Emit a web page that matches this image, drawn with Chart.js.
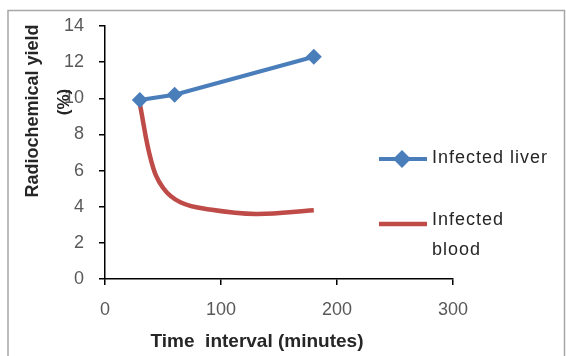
<!DOCTYPE html>
<html>
<head>
<meta charset="utf-8">
<script src="https://cdn.jsdelivr.net/npm/chart.js@4/dist/chart.umd.min.js"></script>
<style>
  html, body { margin: 0; padding: 0; background: #fff; }
  canvas { display: block; }
</style>
</head>
<body>
<canvas id="c" width="566" height="356"></canvas>
<script>
// ---- Data ----
const liverTime  = [30, 60, 180];
const liverYield = [9.9, 10.2, 12.3];

const bloodTime  = [30, 40, 50, 65, 90, 130, 180];
const bloodYield = [9.7, 6.5, 5.05, 4.25, 3.85, 3.6, 3.8];

const seriesNames = ["Infected liver", "Infected blood"];
const xTitle = "Time  interval (minutes)";
const yTitleLines = ["Radiochemical yield", "(%)"];

const liverColor = "#4A7EBB";
const bloodColor = "#BE4B48";
const tickColor = "#595959";

const toPts = (xs, ys) => xs.map((x, i) => ({ x: x, y: ys[i] }));

const decorPlugin = {
  id: "decor",
  beforeDraw(chart) {
    const ctx = chart.ctx;
    ctx.save();
    ctx.fillStyle = "#fff";
    ctx.fillRect(0, 0, chart.width, chart.height);
    ctx.restore();
  },
  afterDraw(chart) {
    const ctx = chart.ctx;
    ctx.save();
    // outer frame
    ctx.strokeStyle = "#a6a6a6";
    ctx.lineWidth = 1.5;
    ctx.beginPath();
    ctx.moveTo(8, 360); ctx.lineTo(8, 10.5); ctx.lineTo(564.5, 10.5); ctx.lineTo(564.5, 360);
    ctx.stroke();

    // x axis title
    ctx.fillStyle = "#262626";
    ctx.font = "bold 19px 'Liberation Sans', Arial, sans-serif";
    ctx.textAlign = "center";
    ctx.textBaseline = "middle";
    ctx.fillText(xTitle, 257, 342, 240);

    // y axis title (rotated)
    ctx.save();
    ctx.translate(33, 111);
    ctx.rotate(-Math.PI / 2);
    ctx.font = "bold 18px 'Liberation Sans', Arial, sans-serif";
    ctx.fillText(yTitleLines[0], 0, 0, 192);
    ctx.restore();
    ctx.save();
    ctx.translate(64, 102);
    ctx.rotate(-Math.PI / 2);
    ctx.font = "bold 17px 'Liberation Sans', Arial, sans-serif";
    ctx.fillText(yTitleLines[1], 0, 0);
    ctx.restore();

    // legend
    ctx.lineCap = "butt";
    ctx.strokeStyle = liverColor;
    ctx.lineWidth = 4;
    ctx.beginPath(); ctx.moveTo(379, 159); ctx.lineTo(427, 159); ctx.stroke();
    ctx.fillStyle = liverColor;
    ctx.beginPath();
    ctx.moveTo(402, 150); ctx.lineTo(411, 159); ctx.lineTo(402, 168); ctx.lineTo(393, 159);
    ctx.closePath(); ctx.fill();
    ctx.strokeStyle = bloodColor;
    ctx.lineWidth = 4.5;
    ctx.beginPath(); ctx.moveTo(379, 224); ctx.lineTo(427, 224); ctx.stroke();

    ctx.fillStyle = "#262626";
    ctx.font = "18px 'Liberation Sans', Arial, sans-serif";
    ctx.letterSpacing = "1px";
    ctx.textAlign = "left";
    ctx.textBaseline = "middle";
    ctx.fillText(seriesNames[0], 432, 158, 128);
    const bw = seriesNames[1].split(" ");
    ctx.fillText(bw[0], 432, 220);
    ctx.fillText(bw[1], 432, 250);
    ctx.restore();
  }
};

new Chart(document.getElementById("c"), {
  type: "scatter",
  data: {
    datasets: [
      {
        label: seriesNames[0],
        data: toPts(liverTime, liverYield),
        showLine: true,
        borderColor: liverColor,
        backgroundColor: liverColor,
        borderWidth: 4,
        pointStyle: "rectRot",
        pointRadius: 8,
        pointBorderWidth: 0,
        tension: 0,
        order: 1
      },
      {
        label: seriesNames[1],
        data: toPts(bloodTime, bloodYield),
        showLine: true,
        borderColor: bloodColor,
        backgroundColor: bloodColor,
        borderWidth: 4.5,
        pointRadius: 0,
        tension: 0.4,
        order: 2
      }
    ]
  },
  options: {
    responsive: false,
    devicePixelRatio: 1,
    animation: false,
    layout: { padding: { left: 0, top: 26, right: 113, bottom: 0 } },
    plugins: {
      legend: { display: false },
      tooltip: { enabled: false }
    },
    scales: {
      x: {
        type: "linear",
        min: 0, max: 300,
        ticks: {
          stepSize: 100,
          color: tickColor,
          font: { size: 18, family: "'Liberation Sans', Arial, sans-serif" },
          padding: 14,
          maxRotation: 0
        },
        grid: { display: true, drawOnChartArea: false, drawTicks: true, tickLength: 6, color: "#000", lineWidth: 1.5 },
        border: { display: true, color: "#000", width: 1.5 },
        afterFit(scale) { scale.height = 77; }
      },
      y: {
        min: 0, max: 14,
        ticks: {
          stepSize: 2,
          color: tickColor,
          font: { size: 18, family: "'Liberation Sans', Arial, sans-serif" },
          padding: 15
        },
        grid: { display: true, drawOnChartArea: false, drawTicks: true, tickLength: 6, color: "#000", lineWidth: 1.5 },
        border: { display: true, color: "#000", width: 1.5 },
        afterFit(scale) { scale.width = 105; }
      }
    }
  },
  plugins: [decorPlugin]
});
</script>
</body>
</html>
